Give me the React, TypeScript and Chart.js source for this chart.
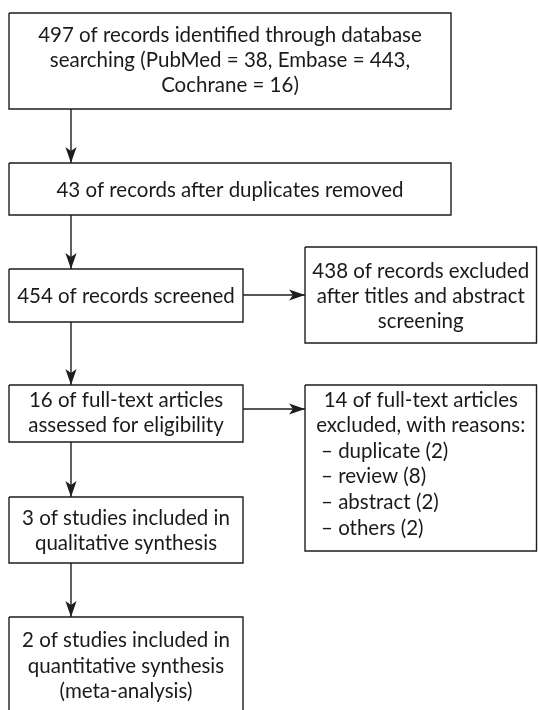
import React, { useEffect, useRef } from "react";
import { Chart, registerables } from "chart.js";

Chart.register(...registerables);

// ---- content (data) ----
const identifiedLines = ["497 of records identified through database", "searching (PubMed = 38, Embase = 443,", "Cochrane = 16)"];
const dedupLines = ["43 of records after duplicates removed"];
const screenedLines = ["454 of records screened"];
const screenExcludedLines = ["438 of records excluded", "after titles and abstract", "screening"];
const eligibilityLines = ["16 of full-text articles", "assessed for eligibility"];
const fullTextExcludedLines = ["14 of full-text articles", "excluded, with reasons:"];
const exclusionReasons = ["– duplicate (2)", "– review (8)", "– abstract (2)", "– others (2)"];
const qualitativeLines = ["3 of studies included in", "qualitative synthesis"];
const quantitativeLines = ["2 of studies included in", "quantitative synthesis", "(meta-analysis)"];

// ---- layout (drawing space in scale units, y grows downward) ----
type Box = {
  x0: number; y0: number; x1: number; y1: number;
  lines: string[]; list?: string[]; listX?: number;
  base: number; spacing: number;
};
const BOXES: Box[] = [
  { x0: 9, y0: 13, x1: 451, y1: 109, lines: identifiedLines, base: 42, spacing: 25 },
  { x0: 9, y0: 163, x1: 451, y1: 215, lines: dedupLines, base: 197, spacing: 25 },
  { x0: 9, y0: 269, x1: 243, y1: 322, lines: screenedLines, base: 302.5, spacing: 25 },
  { x0: 305, y0: 247, x1: 536.5, y1: 343, lines: screenExcludedLines, base: 277.5, spacing: 25.4 },
  { x0: 9, y0: 385, x1: 243, y1: 442, lines: eligibilityLines, base: 406.5, spacing: 25.2 },
  { x0: 305, y0: 385, x1: 536.5, y1: 551, lines: fullTextExcludedLines, list: exclusionReasons, listX: 321, base: 406.5, spacing: 25.6 },
  { x0: 9, y0: 497, x1: 243, y1: 563, lines: qualitativeLines, base: 525, spacing: 25.4 },
  { x0: 9, y0: 617, x1: 243, y1: 740, lines: quantitativeLines, base: 647, spacing: 25.5 },
];
// arrows: [x0, y0, x1, y1]
const ARROWS: number[][] = [
  [71, 109, 71, 163],
  [71, 215, 71, 269],
  [71, 322, 71, 385],
  [71, 442, 71, 497],
  [71, 563, 71, 617],
  [243, 295, 305, 295],
  [243, 409, 305, 409],
];

const LINE_COLOR = "#1e1e1e";
const TEXT_COLOR = "#1a1a1a";
const FONT = "20.5px Lato";

export default function App() {
  const ref = useRef<HTMLCanvasElement | null>(null);
  useEffect(() => {
    if (!ref.current) return;
    const boxSets = BOXES.map((b) => ({
      data: [
        { x: b.x0, y: b.y0 },
        { x: b.x1, y: b.y0 },
        { x: b.x1, y: b.y1 },
        { x: b.x0, y: b.y1 },
        { x: b.x0, y: b.y0 },
      ],
      showLine: true,
      borderColor: LINE_COLOR,
      borderWidth: 1.4,
      pointRadius: 0,
      fill: false,
      tension: 0,
    }));
    const arrowSets = ARROWS.map((a) => ({
      data: [
        { x: a[0], y: a[1] },
        { x: a[2], y: a[3] },
      ],
      showLine: true,
      borderColor: LINE_COLOR,
      borderWidth: 1.4,
      pointRadius: 0,
      fill: false,
    }));

    const flowPlugin = {
      id: "flow",
      afterDatasetsDraw(chart: any) {
        const ctx = chart.ctx as CanvasRenderingContext2D;
        const xs = chart.scales.x;
        const ys = chart.scales.y;
        const px = (v: number) => xs.getPixelForValue(v);
        const py = (v: number) => ys.getPixelForValue(v);
        ctx.save();
        // arrow heads
        ctx.fillStyle = LINE_COLOR;
        ARROWS.forEach((a) => {
          const x0 = px(a[0]), y0 = py(a[1]), x1 = px(a[2]), y1 = py(a[3]);
          const len = Math.hypot(x1 - x0, y1 - y0);
          const ux = (x1 - x0) / len, uy = (y1 - y0) / len;
          const vx = -uy, vy = ux;
          const L = 16, W = 5.6, N = 12;
          ctx.beginPath();
          ctx.moveTo(x1, y1);
          ctx.lineTo(x1 - ux * L + vx * W, y1 - uy * L + vy * W);
          ctx.lineTo(x1 - ux * N, y1 - uy * N);
          ctx.lineTo(x1 - ux * L - vx * W, y1 - uy * L - vy * W);
          ctx.closePath();
          ctx.fill();
        });
        // text
        ctx.fillStyle = TEXT_COLOR;
        ctx.font = FONT;
        ctx.textBaseline = "alphabetic";
        BOXES.forEach((b) => {
          const cx = px((b.x0 + b.x1) / 2);
          b.lines.forEach((t, i) => {
            ctx.textAlign = "center";
            ctx.fillText(t, cx, py(b.base + i * b.spacing));
          });
          if (b.list) {
            b.list.forEach((t, j) => {
              ctx.textAlign = "left";
              ctx.fillText(t, px(b.listX as number), py(b.base + (b.lines.length + j) * b.spacing));
            });
          }
        });
        ctx.restore();
      },
    };

    const chart = new Chart(ref.current, {
      type: "scatter",
      data: { datasets: [...boxSets, ...arrowSets] as any },
      options: {
        animation: false,
        responsive: false,
        maintainAspectRatio: false,
        layout: { padding: 0 },
        events: [],
        plugins: { legend: { display: false }, tooltip: { enabled: false } },
        scales: {
          x: { type: "linear", min: 0, max: 538, display: false },
          y: { type: "linear", min: 0, max: 710, reverse: true, display: false },
        },
      },
      plugins: [flowPlugin],
    });
    return () => chart.destroy();
  }, []);

  return (
    <div style={{ position: "absolute", left: 0, top: 0, width: 538, height: 710, background: "#fff" }}>
      <canvas ref={ref} width={538} height={710} style={{ display: "block", width: 538, height: 710 }} />
    </div>
  );
}
